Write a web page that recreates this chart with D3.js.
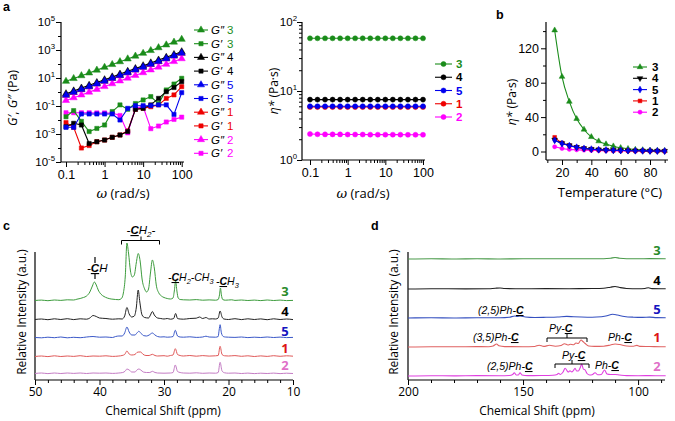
<!DOCTYPE html>
<html><head><meta charset="utf-8">
<script src="https://cdnjs.cloudflare.com/ajax/libs/d3/7.8.5/d3.min.js"></script>
<style>body{margin:0;background:#fff}</style>
</head><body><svg id="fig" width="675" height="421" font-family="Liberation Sans, Arial, sans-serif"></svg>
<script>
// ---------------- DATA ----------------
const omega = [0.1,0.158,0.251,0.398,0.631,1,1.58,2.51,3.98,6.31,10,15.8,25.1,39.8,63.1,100];
const sampleIds = ["3","4","5","1","2"];
// G'' (loss modulus, Pa)
const gpp3 = [5.8,9.2,14.6,23,36.6,58,92,146,231,366,580,920,1460,2310,3660,5800];
const gpp4 = [0.75,1.19,1.9,3.0,4.7,7.5,11.9,19,30,47,75,119,190,300,470,750];
const gpp5 = [0.6,0.95,1.5,2.4,3.8,6.0,9.5,15,24,38,60,95,150,240,380,600];
const gpp1 = [0.59,0.93,1.48,2.35,3.7,5.9,9.3,14.8,23.5,37,59,93,148,235,370,590];
const gpp2 = [0.25,0.39,0.62,0.98,1.55,2.45,3.9,6.2,9.8,15.5,24,38,60,95,150,240];
// G' (storage modulus, Pa)
const gp3 = [1.7e-2,4.7e-2,8e-3,1.5e-3,2.5e-3,4.4e-3,4e-2,1.2e-1,5.8e-2,1.5e-1,2.7e-1,4.7e-1,1.5e-1,1.4,3.7,9.5];
const gp4 = [3.3e-3,5.8e-3,4.4e-3,2.1e-4,2.8e-4,3.7e-4,5.8e-4,8.5e-4,1.5e-3,5.8e-2,6.8e-2,1.2e-1,3.5e-1,1.05,2.1,5.5];
const gp5 = [3.0e-3,3.0e-3,2.7e-2,2.7e-2,2.7e-2,2.7e-2,2.7e-2,1.0e-2,6.8e-2,1.05e-1,1.05e-1,1.05e-1,1.2e-1,1.2e-1,2.5e-2,0.9];
const gp1 = [6.5e-3,3.0e-3,1.0e-4,1.5e-4,2.8e-4,3.7e-4,5.8e-4,8.5e-4,1.7e-3,5.8e-2,6.8e-2,8.9e-2,1.2e-1,3.5e-1,6.2e-1,2.4];
const gp2 = [3.3e-2,3.3e-2,3.3e-2,3.3e-2,3.2e-2,3.2e-2,3.2e-2,2.1e-2,1.2e-3,6.8e-2,8.9e-2,2.4e-3,3.7e-3,7.2e-3,1.1e-2,1.6e-2];
// complex viscosity vs omega (Pa s)
const eta3 = [58,58,58,58,58,58,58,58,58,58,58,58,58,58,58,58];
const eta4 = [7.5,7.5,7.5,7.5,7.5,7.5,7.5,7.5,7.5,7.5,7.5,7.5,7.5,7.5,7.5,7.5];
const eta5 = [6.0,6.0,6.0,6.0,6.0,6.0,6.0,6.0,6.0,6.0,6.0,6.0,6.0,6.0,6.0,6.0];
const eta1 = [5.85,5.85,5.85,5.85,5.85,5.85,5.85,5.85,5.85,5.85,5.85,5.85,5.85,5.85,5.85,5.85];
const eta2 = [2.38,2.36,2.35,2.35,2.35,2.34,2.34,2.34,2.33,2.33,2.33,2.33,2.33,2.32,2.32,2.32];
// viscosity vs temperature
const temps = [15,20,25,30,35,40,45,50,55,60,65,70,75,80,85,90];
const etaT3 = [141,87,58,38,25.6,17,12,8.6,6.2,4.3,3.2,2.3,1.8,1.4,1.1,0.9];
const etaT4 = [13.5,9.5,7,5,3.7,2.8,2.2,1.8,1.5,1.2,1,0.9,0.8,0.7,0.6,0.5];
const etaT5 = [13,9.2,6.8,4.9,3.6,2.7,2.1,1.7,1.4,1.2,1,0.9,0.8,0.7,0.6,0.5];
const etaT1 = [16.5,10,7,5,3.6,2.7,2.1,1.7,1.4,1.2,1,0.9,0.8,0.7,0.6,0.5];
const etaT2 = [5.5,3.5,2.5,2,1.6,1.3,1.1,0.9,0.8,0.7,0.6,0.5,0.5,0.4,0.4,0.4];
// 13C NMR aliphatic region [ppm, intensity]
const specC3 = [[50,0.5],[49,0.9],[48,0.3],[47,1],[46,0.6],[45,1.2],[44,1],[43.5,1.8],[43,2.5],[42.5,3.5],[42,5],[41.5,9],[41.1,15],[40.8,19],[40.5,16],[40.2,11],[39.8,7],[39.3,4.5],[38.8,3],[38.2,2],[37.5,1.5],[37,1.3],[36.6,2.5],[36.3,8],[36,25],[35.75,58],[35.5,48],[35.2,30],[34.9,24],[34.6,26],[34.3,38],[34.0,47.5],[33.7,40],[33.4,22],[33.0,12],[32.7,9],[32.4,12],[32.1,28],[31.8,41],[31.5,33],[31.2,16],[30.8,8],[30.4,5],[30,3.5],[29.5,2.5],[29,2],[28.6,3],[28.4,10],[28.2,20],[28.0,10],[27.8,3],[27.5,1.5],[27,1.2],[26,1],[25,1.4],[24,0.8],[23,1.1],[22,0.8],[21.6,1.5],[21.4,6],[21.25,13],[21.1,6],[20.9,1.5],[20.5,0.8],[19.5,1.2],[19,0.6],[18,1],[17,0.5],[16,0.9],[15,0.4],[14,1],[13,0.5],[12,0.9],[11,0.4],[10,0.6]];
const specC4 = [[50,0.5],[49,1],[48,0.3],[47,1.2],[46,0.5],[45,1.3],[44,0.4],[43,1.2],[42,0.8],[41.5,2],[41,4.5],[40.5,3.5],[40,2],[39,1.5],[38,0.8],[37,1.2],[36.5,1],[36.1,4],[35.75,12.5],[35.4,6],[35,3],[34.6,4],[34.3,12],[34.0,30],[33.75,18],[33.4,5],[33,2.5],[32.4,2],[32.1,5],[31.8,8.5],[31.5,5],[31,2],[30.5,1.5],[30,1],[29.5,1.5],[29,0.8],[28.5,1.5],[28.2,6.5],[27.9,1.5],[27.5,1],[27,0.8],[26,1.5],[25,1.8],[24.5,3],[24,1.5],[23.5,2.5],[23,1],[22.5,1.2],[22,1],[21.6,2],[21.3,9],[21.0,3],[20.7,1],[20,0.5],[19,1.3],[18,0.4],[17,1.2],[16,0.5],[15,1.1],[14,0.3],[13,1.2],[12,0.5],[11,1],[10,0.4]];
const specC5 = [[50,0.5],[49,0.2],[48,0.8],[47,0.3],[46,1],[45,0.2],[44,0.7],[43,0.3],[42,1],[41,1.5],[40,0.8],[39,1],[38,0.5],[37.5,1.5],[37,2],[36.5,2],[36.1,5],[35.75,11],[35.4,6],[35,3],[34.5,3],[34.2,5],[33.9,6.7],[33.6,5],[33.2,2.5],[32.7,2],[32.3,3],[31.8,5],[31.4,3],[31,1.5],[30.5,1],[30,1.2],[29.5,0.8],[29,1],[28.6,1.5],[28.25,7.7],[27.9,2],[27.5,1],[27,0.8],[26,1.2],[25,0.6],[24,1],[23.5,1.8],[23,1],[22,0.8],[21.6,1.5],[21.45,8],[21.3,13.3],[21.1,5],[20.8,1.5],[20.5,1],[20,0.8],[19,0.6],[18,1],[17,0.4],[16,0.8],[15,0.5],[14,1],[13,0.5],[12,0.9],[11,0.4],[10,0.6]];
const specC1 = [[50,0.5],[49,1],[48,0.4],[47,1.2],[46,0.5],[45,1],[44,0.6],[43,1.3],[42,0.5],[41,1],[40,0.8],[39,1.2],[38,0.6],[37,1],[36.5,1.5],[36.1,2.5],[35.75,6],[35.4,3],[35,2],[34.5,2.5],[34.2,4.5],[33.9,5],[33.6,5],[33.3,3],[32.8,1.5],[32.3,1.5],[31.8,2.7],[31.4,1.5],[31,1],[30,1.3],[29.5,0.8],[29,1.5],[28.6,2],[28.25,8.3],[27.9,2.5],[27.5,1.5],[27,1],[26,1.5],[25,0.8],[24,1.4],[23,0.9],[22,1.2],[21.6,1.5],[21.3,10.7],[21.0,2.5],[20.6,1.2],[20,1],[19,1.4],[18,0.7],[17,1.2],[16,0.5],[15,1.1],[14,0.6],[13,1.3],[12,0.7],[11,1.2],[10,0.8]];
const specC2 = [[50,0.5],[49,1],[48,0.4],[47,1],[46,0.5],[45,1],[44,0.6],[43,1],[42,0.5],[41,1],[40,0.8],[39,1],[38,0.6],[37,1],[36.4,1.5],[36.0,3],[35.75,5],[35.4,4],[35,2],[34.5,2],[34.2,4],[33.9,5],[33.6,4],[33.2,2],[32.7,1.5],[32.2,1.5],[31.8,2.7],[31.4,1.5],[31,1],[30,0.8],[29,1],[28.6,1.5],[28.25,9],[27.9,2.5],[27.5,1.5],[27,1],[26,0.8],[25,1.2],[24,0.7],[23,1],[22,0.8],[21.6,1.5],[21.3,11.7],[21.0,3],[20.6,1.2],[20,0.8],[19,1],[18,0.5],[17,0.9],[16,0.4],[15,0.8],[14,0.5],[13,0.9],[12,0.4],[11,0.8],[10,0.5]];
// 13C NMR aromatic region [ppm, intensity]
const specD3 = [[200,0],[190,0.3],[180,0],[170,0.3],[160,0],[150,0.3],[140,0.2],[130,0.3],[120,0.2],[115,0.3],[112,0.8],[110,1.5],[108,0.8],[105,0.3],[100,0.2],[95,0.4],[88,0.2]];
const specD4 = [[200,0],[190,0.3],[175,0.1],[165,0.3],[162,0.8],[160,1],[158,0.5],[150,0.2],[140,0.4],[130,0.3],[120,0.5],[115,0.8],[112,1.8],[110,2.5],[108,1.5],[105,0.5],[100,0.3],[97,0.5],[95.5,1.3],[94,0.4],[90,0.3],[88,0.3]];
const specD5 = [[200,0],[190,0.2],[180,0],[170,0.3],[160,0.3],[156,0.8],[153.5,2],[152.5,1.5],[151.3,2],[149,1],[145,0.5],[140,0.7],[135,1],[131,1.6],[128,1.2],[122,0.8],[118,1],[114,2],[111,3.8],[109,3],[106,1.5],[102,0.8],[98,0.6],[95,0.9],[92,0.4],[88,0.3]];
const specD1 = [[200,0],[190,0.3],[180,0.2],[170,0.4],[165,0.3],[163,1],[161.5,3],[160.5,1.2],[158,0.4],[150,0.3],[145,0.5],[143,1.8],[141,0.6],[138.5,1.7],[136,0.8],[133.5,1.5],[132,3.3],[130.5,2],[129.5,2.7],[128,2.3],[127,4],[126,3.5],[124.8,7],[124,5.5],[123,3.5],[121.5,1],[119,0.6],[115,0.8],[112,2],[110,3],[108,2.5],[105,1],[102,0.8],[100.5,1.6],[99,0.6],[95,0.5],[90,0.3],[88,0.3]];
const specD2 = [[200,0],[190,0.3],[180,0.1],[170,0.4],[160,0.3],[156,0.5],[154.5,1.5],[153.8,3.3],[153,1],[152,1],[151.3,3.3],[150.5,1],[148,0.4],[142,0.5],[137,0.8],[135.2,1.5],[134.6,2.7],[133.8,1.5],[132.6,4],[131.7,7.7],[130.8,5],[130.3,4],[129.6,5.3],[128.8,4],[128.1,5.5],[127.4,7.7],[126.7,5],[126,5],[125.2,8],[124.5,12],[123.8,7],[123,6],[122.2,2.5],[121,1],[120,1.2],[118.7,3.3],[117.5,1.2],[116,1.5],[114.6,6],[113.5,2],[112,1.5],[110,1.5],[108,1],[105,0.4],[100,0.3],[95,0.4],[90,0.2],[88,0.3]];
const offsetsC = [79,60,42,23,6];   // stacking offsets, order 3,4,5,1,2
const offsetsD = [121,91,62,33,4];

// ---------------- DRAW ----------------
const svg = d3.select("#fig");
const OPEN = "Open Sans, Liberation Sans, sans-serif";
const COL = {"3":"#1a8c1a","4":"#000000","5":"#0000ee","1":"#ee0000","2":"#ff00ff"};
const COLC = {"3":"#3d9c3d","4":"#222222","5":"#3a58c8","1":"#e05858","2":"#c47cc4"};
const COLD = {"3":"#4a9a4a","4":"#222222","5":"#3550c0","1":"#e06262","2":"#e040e0"};
const LBL = {"3":"#2a8a2a","4":"#000","5":"#1515c0","1":"#dd1515","2":"#e070c8"};

function hline(g,x1,x2,y){g.append("line").attr("x1",x1).attr("x2",x2).attr("y1",y).attr("y2",y).attr("stroke","#000").attr("stroke-width",1.2);}
function vline(g,x,y1,y2){g.append("line").attr("x1",x).attr("x2",x).attr("y1",y1).attr("y2",y2).attr("stroke","#000").attr("stroke-width",1.2);}
function styleAxis(g,fs,fam){g.attr("font-family",null).attr("font-size",null);g.select(".domain").remove();g.selectAll("line").attr("stroke","#000").attr("stroke-width",1);
  g.selectAll("text").attr("font-size",fs).attr("font-family",fam||"Liberation Sans, Arial, sans-serif").attr("fill","#000");}
function logMinors(lo,hi){const a=[];for(let e=Math.floor(Math.log10(lo));e<=Math.ceil(Math.log10(hi));e++){for(let m=2;m<=9;m++){const v=m*Math.pow(10,e);if(v>=lo&&v<=hi)a.push(v);}}return a;}
function symPath(shape,size){
  const t={tri:d3.symbolTriangle,sq:d3.symbolSquare,circ:d3.symbolCircle,tdown:d3.symbolTriangle,dia:d3.symbolDiamond}[shape];
  return d3.symbol().type(t).size(size)();
}
function drawSym(g,shape,size,x,y,color){
  g.append("path").attr("d",symPath(shape,size)).attr("transform",`translate(${x},${y})`+(shape==="tdown"?" rotate(180)":"")).attr("fill",color).attr("stroke",color).attr("stroke-width",0.5);
}
function ylog10Labels(g,scale,x,exps,fs){
  exps.forEach(e=>{const t=g.append("text").attr("x",x).attr("y",scale(Math.pow(10,e))+4).attr("text-anchor","end").attr("font-size",fs);
    t.append("tspan").text("10");t.append("tspan").attr("dy",-5).attr("font-size",fs*0.68).text(String(e));});
}

// ===== Panel a (left) =====
const gA = svg.append("g");
const xA = d3.scaleLog().domain([0.1,100]).range([66,181.7]);
const yA = d3.scaleLog().domain([1e-5,1e5]).range([162,22]);
gA.append("g").attr("transform","translate(0,162)").call(d3.axisBottom(xA).tickValues(logMinors(0.1,100)).tickSize(3).tickFormat("")).call(g=>styleAxis(g,12));
gA.append("g").attr("transform","translate(0,162)").call(d3.axisBottom(xA).tickValues([0.1,1,10,100]).tickSize(5).tickPadding(3).tickFormat(d3.format("~g"))).call(g=>styleAxis(g,12.5));
const decA=[];for(let e=-5;e<=5;e++)decA.push(Math.pow(10,e));
gA.append("g").attr("transform","translate(61,0)").call(d3.axisLeft(yA).tickValues(decA.filter((d,i)=>i%2===1)).tickSize(3).tickFormat("")).call(g=>styleAxis(g,11));
gA.append("g").attr("transform","translate(61,0)").call(d3.axisLeft(yA).tickValues(decA.filter((d,i)=>i%2===0)).tickSize(5).tickFormat("")).call(g=>styleAxis(g,11));
hline(gA,61,184,162); vline(gA,61,22,162);
ylog10Labels(gA,yA,55,[5,3,1,-1,-3,-5],11.5);
{const t=gA.append("text").attr("transform","translate(17,98) rotate(-90)").attr("text-anchor","middle").attr("font-size",12.5).attr("font-family",OPEN);
 t.append("tspan").attr("font-style","italic").text("G′");t.append("tspan").text(", ");t.append("tspan").attr("font-style","italic").text("G″");t.append("tspan").text(" (Pa)");}
{const t=gA.append("text").attr("x",123).attr("y",198).attr("text-anchor","middle").attr("font-size",13).attr("font-family",OPEN);
 t.append("tspan").attr("font-style","italic").attr("font-family","DejaVu Serif, serif").text("ω");t.append("tspan").text(" (rad/s)");}
const gppMap={"3":gpp3,"4":gpp4,"5":gpp5,"1":gpp1,"2":gpp2};
const gpMap={"3":gp3,"4":gp4,"5":gp5,"1":gp1,"2":gp2};
const lineA=d3.line().x((d,i)=>xA(omega[i])).y(d=>yA(d));
["1","2","3","4","5"].forEach(id=>{
  [[gpMap[id],"sq"],[gppMap[id],"tri"]].forEach(([arr,shape])=>{
    gA.append("path").attr("d",lineA(arr)).attr("fill","none").attr("stroke",COL[id]).attr("stroke-width",1.1);
    arr.forEach((v,i)=>drawSym(gA,shape,shape==="tri"?22:18,xA(omega[i]),yA(v),COL[id]));
  });
});
// legend
sampleIds.forEach((id,k)=>{
  [["″","tri"],["′","sq"]].forEach(([pr,shape],j)=>{
    const y=30+(k*2+j)*13.7;
    gA.append("line").attr("x1",194).attr("x2",208).attr("y1",y).attr("y2",y).attr("stroke",COL[id]).attr("stroke-width",1.1);
    drawSym(gA,shape,shape==="tri"?22:18,201,y,COL[id]);
    const t=gA.append("text").attr("x",211).attr("y",y+4).attr("font-size",11.5);
    t.append("tspan").attr("font-style","italic").text("G"+pr);
    t.append("tspan").attr("x",227).attr("fill",COL[id]).text(id);
  });
});

// ===== Panel a (right) =====
const gR = svg.append("g");
const xR = d3.scaleLog().domain([0.1,100]).range([310,423]);
const yR = d3.scaleLog().domain([1,100]).range([160,22]);
gR.append("g").attr("transform","translate(0,160)").call(d3.axisBottom(xR).tickValues(logMinors(0.1,100)).tickSize(3).tickFormat("")).call(g=>styleAxis(g,12));
gR.append("g").attr("transform","translate(0,160)").call(d3.axisBottom(xR).tickValues([0.1,1,10,100]).tickSize(5).tickPadding(3).tickFormat(d3.format("~g"))).call(g=>styleAxis(g,12.5));
gR.append("g").attr("transform","translate(302,0)").call(d3.axisLeft(yR).tickValues(logMinors(1,100)).tickSize(3).tickFormat("")).call(g=>styleAxis(g,11));
gR.append("g").attr("transform","translate(302,0)").call(d3.axisLeft(yR).tickValues([1,10,100]).tickSize(5).tickFormat("")).call(g=>styleAxis(g,11));
hline(gR,302,425,160); vline(gR,302,22,160);
ylog10Labels(gR,yR,297,[2,1,0],11.5);
{const t=gR.append("text").attr("transform","translate(278,91) rotate(-90)").attr("text-anchor","middle").attr("font-size",12).attr("font-family",OPEN);
 t.append("tspan").attr("font-style","italic").text("η*");t.append("tspan").text(" (Pa·s)");}
{const t=gR.append("text").attr("x",363).attr("y",198).attr("text-anchor","middle").attr("font-size",13).attr("font-family",OPEN);
 t.append("tspan").attr("font-style","italic").attr("font-family","DejaVu Serif, serif").text("ω");t.append("tspan").text(" (rad/s)");}
const etaMap={"3":eta3,"4":eta4,"5":eta5,"1":eta1,"2":eta2};
const lineR=d3.line().x((d,i)=>xR(omega[i])).y(d=>yR(d));
["1","2","3","4","5"].forEach(id=>{
  gR.append("path").attr("d",lineR(etaMap[id])).attr("fill","none").attr("stroke",COL[id]).attr("stroke-width",1.1);
  etaMap[id].forEach((v,i)=>drawSym(gR,"circ",20,xR(omega[i]),yR(v),COL[id]));
});
sampleIds.forEach((id,k)=>{
  const y=64+k*13.25;
  gR.append("line").attr("x1",435).attr("x2",452).attr("y1",y).attr("y2",y).attr("stroke",COL[id]).attr("stroke-width",1.1);
  drawSym(gR,"circ",20,443.5,y,COL[id]);
  gR.append("text").attr("x",456).attr("y",y+4).attr("font-size",11.5).attr("font-weight","bold").attr("fill",COL[id]).text(id);
});

// ===== Panel b =====
const gB = svg.append("g");
const xB = d3.scaleLinear().domain([20,80]).range([562,650]);
const yB = d3.scaleLinear().domain([0,150]).range([151.5,22.5]);
gB.append("g").attr("transform","translate(0,160)").call(d3.axisBottom(xB).tickValues([10,30,50,70,90]).tickSize(3).tickFormat("")).call(g=>styleAxis(g,12));
gB.append("g").attr("transform","translate(0,160)").call(d3.axisBottom(xB).tickValues([20,40,60,80]).tickSize(5).tickPadding(3)).call(g=>styleAxis(g,12.5));
gB.append("g").attr("transform","translate(546,0)").call(d3.axisLeft(yB).tickValues([20,60,100,140]).tickSize(3).tickFormat("")).call(g=>styleAxis(g,12));
gB.append("g").attr("transform","translate(546,0)").call(d3.axisLeft(yB).tickValues([0,40,80,120]).tickSize(5).tickPadding(2)).call(g=>styleAxis(g,12.5));
hline(gB,546,668,160); vline(gB,546,22,160);
{const t=gB.append("text").attr("transform","translate(516,102) rotate(-90)").attr("text-anchor","middle").attr("font-size",12).attr("font-family",OPEN);
 t.append("tspan").attr("font-style","italic").text("η*");t.append("tspan").text(" (Pa·s)");}
gB.append("text").attr("x",610).attr("y",197).attr("text-anchor","middle").attr("font-size",13).attr("font-family",OPEN).text("Temperature (°C)");
const etaTMap={"3":etaT3,"4":etaT4,"5":etaT5,"1":etaT1,"2":etaT2};
const shapeB={"3":"tri","4":"tdown","5":"dia","1":"sq","2":"circ"};
const lineB=d3.line().x((d,i)=>xB(temps[i])).y(d=>yB(d)).curve(d3.curveMonotoneX);
["3","2","1","4","5"].forEach(id=>{
  gB.append("path").attr("d",lineB(etaTMap[id])).attr("fill","none").attr("stroke",COL[id]).attr("stroke-width",1.1);
  etaTMap[id].forEach((v,i)=>drawSym(gB,shapeB[id],14,xB(temps[i]),yB(v),COL[id]));
});
sampleIds.forEach((id,k)=>{
  const y=67+k*11.3;
  gB.append("line").attr("x1",633).attr("x2",647).attr("y1",y).attr("y2",y).attr("stroke",COL[id]).attr("stroke-width",1.1);
  drawSym(gB,shapeB[id],14,640,y,COL[id]);
  gB.append("text").attr("x",652).attr("y",y+4).attr("font-size",11.5).attr("font-weight","bold").text(id);
});

// ===== Panel c =====
const gC = svg.append("g");
const xC = d3.scaleLinear().domain([50,10]).range([35,293]);
const yC = d3.scaleLinear().domain([0,128]).range([380,252]);
gC.append("g").attr("transform","translate(0,380)").call(d3.axisBottom(xC).tickValues(d3.range(48,10,-2).filter(v=>v%10!==0)).tickSize(3).tickFormat("")).call(g=>styleAxis(g,12.5));
gC.append("g").attr("transform","translate(0,380)").call(d3.axisBottom(xC).tickValues([50,40,30,20,10]).tickSize(5).tickPadding(2)).call(g=>styleAxis(g,12,OPEN));
hline(gC,35,293,380); vline(gC,35,252,380);
gC.append("text").attr("transform","translate(26,312) rotate(-90)").attr("text-anchor","middle").attr("font-size",12).attr("font-family",OPEN).text("Relative Intensity (a.u.)");
gC.append("text").attr("x",163).attr("y",415).attr("text-anchor","middle").attr("font-size",12).attr("font-family",OPEN).text("Chemical Shift (ppm)");
const specCMap={"3":specC3,"4":specC4,"5":specC5,"1":specC1,"2":specC2};
const labYC=[296,316,336,353,370];
sampleIds.forEach((id,k)=>{
  const off=offsetsC[k];
  const ln=d3.line().x(d=>xC(d[0])).y(d=>yC(d[1]+off)).curve(d3.curveMonotoneX);
  gC.append("path").attr("d",ln(specCMap[id])).attr("fill","none").attr("stroke",COLC[id]).attr("stroke-width",1);
  gC.append("text").attr("x",285).attr("y",labYC[k]).attr("text-anchor","middle").attr("font-size",13).attr("font-weight","bold").attr("font-family",OPEN).attr("fill",LBL[id]).text(id);
});
function chemLabel(g,x,y,parts,fs,anchor){
  const t=g.append("text").attr("x",x).attr("y",y).attr("font-size",fs).attr("font-style","italic").attr("text-anchor",anchor||"start");
  parts.forEach(p=>{const s=t.append("tspan").text(p.t);
    if(p.u){s.attr("font-weight","bold").style("text-decoration","underline");}
    if(p.sub){s.attr("font-size",fs*0.7).attr("dy",3);}
    if(p.up){s.attr("dy",-3);}
  });
  return t;
}
function bracket(g,x1,x2,y,xm){
  g.append("path").attr("d",`M${x1},${y+4}V${y}H${x2}V${y+4}M${xm},${y}V${y-4}`).attr("fill","none").attr("stroke","#000").attr("stroke-width",1);
}
chemLabel(gC,87,272,[{t:"-"},{t:"C",u:1},{t:"H"}],11.5);
vline(gC,95,257,263); vline(gC,95,274,279);
chemLabel(gC,141,234,[{t:"-"},{t:"C",u:1},{t:"H"},{t:"2",sub:1},{t:"-",up:1}],11.5,"middle");
bracket(gC,121.5,159.5,240.5,141);
chemLabel(gC,168,281,[{t:"-"},{t:"C",u:1},{t:"H"},{t:"2",sub:1},{t:"-CH",up:1},{t:"3",sub:1}],10.5);
chemLabel(gC,216,285,[{t:"-"},{t:"C",u:1},{t:"H"},{t:"3",sub:1}],10.5);

// ===== Panel d =====
const gD = svg.append("g");
const xD = d3.scaleLinear().domain([200,88.3]).range([408,665]);
const yD = d3.scaleLinear().domain([0,128]).range([380,252]);
gD.append("g").attr("transform","translate(0,380)").call(d3.axisBottom(xD).tickValues([190,180,170,160,140,130,120,110,90]).tickSize(3).tickFormat("")).call(g=>styleAxis(g,12.5));
gD.append("g").attr("transform","translate(0,380)").call(d3.axisBottom(xD).tickValues([200,150,100]).tickSize(5).tickPadding(2)).call(g=>styleAxis(g,12,OPEN));
hline(gD,408,665,380); vline(gD,408,252,380);
gD.append("text").attr("transform","translate(398,312) rotate(-90)").attr("text-anchor","middle").attr("font-size",12).attr("font-family",OPEN).text("Relative Intensity (a.u.)");
gD.append("text").attr("x",537).attr("y",415).attr("text-anchor","middle").attr("font-size",12).attr("font-family",OPEN).text("Chemical Shift (ppm)");
const specDMap={"3":specD3,"4":specD4,"5":specD5,"1":specD1,"2":specD2};
const labYD=[255,285,314,342,371];
sampleIds.forEach((id,k)=>{
  const off=offsetsD[k];
  const ln=d3.line().x(d=>xD(d[0])).y(d=>yD(d[1]+off)).curve(d3.curveMonotoneX);
  gD.append("path").attr("d",ln(specDMap[id])).attr("fill","none").attr("stroke",COLD[id]).attr("stroke-width",1.1);
  gD.append("text").attr("x",657).attr("y",labYD[k]).attr("text-anchor","middle").attr("font-size",13).attr("font-weight","bold").attr("font-family",OPEN).attr("fill",LBL[id]).text(id);
});
chemLabel(gD,478,314,[{t:"(2,5)Ph-"},{t:"C",u:1}],10.5);
chemLabel(gD,473,341,[{t:"(3,5)Ph-"},{t:"C",u:1}],10.5);
chemLabel(gD,549,332,[{t:"Py-"},{t:"C",u:1}],10.5);
bracket(gD,547,587,338,567);
chemLabel(gD,608,341,[{t:"Ph-"},{t:"C",u:1}],10.5);
chemLabel(gD,487,370,[{t:"(2,5)Ph-"},{t:"C",u:1}],10.5);
chemLabel(gD,562,359,[{t:"Py-"},{t:"C",u:1}],10.5);
bracket(gD,555,589,364,572);
chemLabel(gD,595,369,[{t:"Ph-"},{t:"C",u:1}],10.5);

// panel letters
[["a",3,11],["b",496,19],["c",3,230],["d",371,230]].forEach(([s,x,y])=>svg.append("text").attr("x",x).attr("y",y).attr("font-size",12.5).attr("font-weight","bold").text(s));
</script></body></html>
